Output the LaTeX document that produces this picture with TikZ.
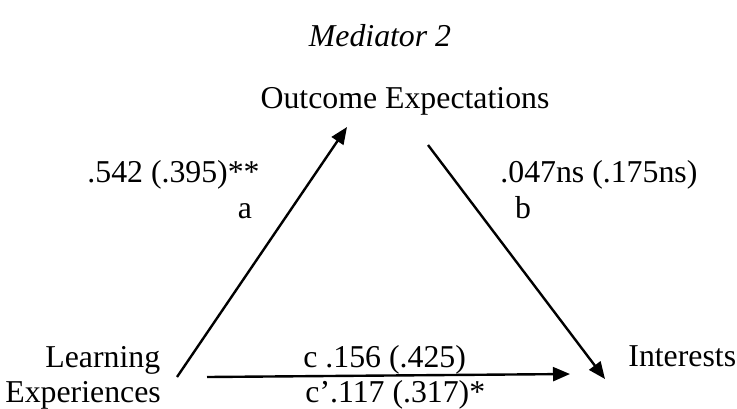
\documentclass[tikz,border=0pt]{standalone}
\usepackage{fontspec}
\setmainfont{Liberation Serif}
\usetikzlibrary{arrows.meta}
\begin{document}
\begin{tikzpicture}[x=0.5pt,y=-0.5pt,
  lbl/.style={inner sep=0pt,font=\fontsize{15.9}{17.5}\selectfont},
  arr/.style={line width=1.2pt,-{Triangle[length=8.5pt,width=7pt]}}]
\useasboundingbox (0,0) rectangle (737,408);
\node[lbl,anchor=base] (title) at (380,46) {\itshape Mediator 2};
\node[lbl,anchor=base] (oe) at (405,108) {Outcome Expectations};
\node[lbl,anchor=base west] (learn) at (45,367) {Learning};
\node[lbl,anchor=base west] (exp) at (5,402) {Experiences};
\node[lbl,anchor=base west] (int) at (628,366) {Interests};
\node[lbl,anchor=base west] (la) at (87,182) {.542 (.395)**};
\node[lbl,anchor=base] (la2) at (245,218) {a};
\node[lbl,anchor=base west] (lb) at (500,182) {.047ns (.175ns)};
\node[lbl,anchor=base] (lb2) at (523,218) {b};
\node[lbl,anchor=base west] (lc) at (303,367) {c .156 (.425)};
\node[lbl,anchor=base west] (lc2) at (305,402) {c’.117 (.317)*};
\coordinate (a0) at (177,377);
\coordinate (a1) at (347,127);
\coordinate (b0) at (428,145);
\coordinate (b1) at (605,379);
\coordinate (c0) at (207,377);
\coordinate (c1) at (570,374);
\draw[arr] (a0) -- (a1);
\draw[arr] (b0) -- (b1);
\draw[arr] (c0) -- (c1);
\end{tikzpicture}
\end{document}
